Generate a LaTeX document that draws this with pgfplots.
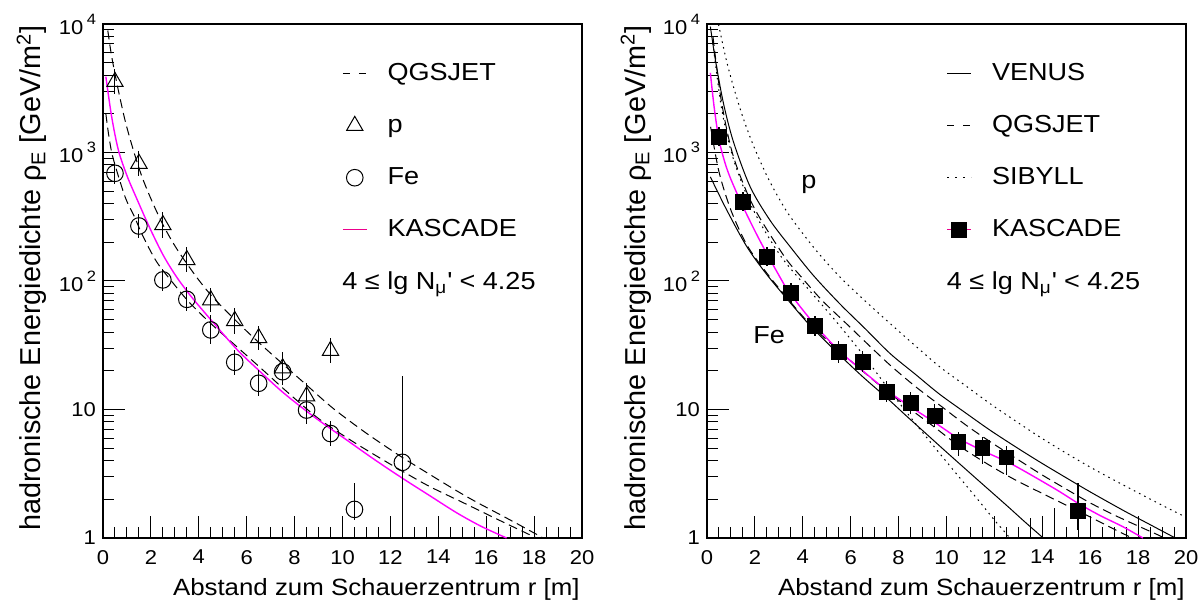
\documentclass[border=0pt]{standalone}
\usepackage{fontspec}
\setmainfont{Liberation Sans}[FakeStretch=1.1]
\newfontfamily\ylabfont{Liberation Sans}
\usepackage{pgfplots}
\usepackage{pgfplotstable}
\pgfplotsset{compat=1.18}
\definecolor{kasmag}{RGB}{255,0,255}

\newcommand{\tf}{\fontsize{12.3}{14}\selectfont}
\newcommand{\tkf}{\fontsize{10}{12}\selectfont}
\newcommand{\sps}[1]{\,\raisebox{0.5em}{\fontsize{7.5}{8}\selectfont #1}}

% left panel: simulated p / Fe points (x, rho, err+, err-)
\pgfplotstableread{
x y ep em
0.5 3550 900 700
1.5 820 210 165
2.5 273 70 55
3.5 146 38 29
4.5 71 18 14
5.5 49 13 10
6.5 36 9 7
7.5 21 7 5
8.5 12.7 3.3 2.6
9.5 28.7 7.5 5.8
}\protonTab
\pgfplotstableread{
x y ep em
0.5 689 150 120
1.5 268 65 52
2.5 102 23 19
3.5 72 18 14
4.5 41.6 13 9.5
5.5 23.3 6 4.7
6.5 16 4.2 3.3
7.5 19.7 5.5 4.3
8.5 9.9 2.8 2.2
9.5 6.5 1.7 1.3
10.5 1.67 1.03 0.3
12.5 3.88 14.3 3.38
}\ironTab
% right panel: KASCADE data
\pgfplotstableread{
x y ep em
0.5 1320 250 200
1.5 415 80 65
2.5 155 30 24
3.5 81 16 13
4.5 44.7 9 7.5
5.5 28.2 6 5
6.5 23.6 5 4
7.5 13.8 3 2.4
8.5 11.2 2.4 2
9.5 8.95 2 1.6
10.5 5.61 1.1 1.3
11.5 4.99 1.1 1.2
12.5 4.24 0.96 1.14
15.5 1.62 1.06 0.47
}\kasTab
\pgfplotstableread{
x y ep em
13.5 0.6 0.83 0.3
14.5 0.7 1.01 0.3
}\kasLowTab

\pgfplotsset{
  kasline/.style={draw=kasmag, color=kasmag, line width=0.7pt},
  kasleg/.style={magenta, line width=0.75pt},
  every axis/.append style={
    scale only axis, width=239.5pt, height=257pt,
    xmin=0, xmax=20, ymin=1, ymax=10000,
    axis line style={line width=0.7pt},
    tick pos=left, tick align=inside,
    major tick length=11pt, minor tick length=5.5pt,
    tick style={black, line width=0.5pt},
    xtick={0,2,...,20}, minor x tick num=3,
    xticklabels={0,2,4,6,8,10,12,14,16,18,20},
    ytick={1,10,100,1000,10000},
    minor ytick={2,3,4,5,6,7,8,9,20,30,40,50,60,70,80,90,200,300,400,500,600,700,800,900,2000,3000,4000,5000,6000,7000,8000,9000},
    yticklabels={1,10,10\sps{2},10\sps{3},10\sps{4}},
    ticklabel style={font=\tkf},
    xticklabel style={yshift=-2.5pt},
    yticklabel style={xshift=0pt},
    legend style={draw=none, fill=none, font=\tf, inner sep=0pt, outer sep=0pt,
      row sep=14.3pt, column sep=10pt, anchor=north west,
      nodes={inner sep=0pt, text height=9pt, text depth=2.7pt}},
    legend cell align=left,
  },
}

\begin{document}
\begin{tikzpicture}
\useasboundingbox (0,0) rectangle (599.5pt,300.5pt);

% ---------- left panel ----------
\begin{axis}[ymode=log, at={(51.5pt,31.5pt)}, anchor=south west,
  legend style={at={(rel axis cs:0.499,0.926)}},
  legend image code/.code={\draw[mark repeat=2,mark phase=2,#1] plot coordinates {(0pt,0pt) (6pt,0pt) (12pt,0pt)};}]
\addplot[black, line width=0.5pt, dash pattern=on 4.5pt off 2.5pt, smooth, forget plot] coordinates {(0.2,8900) (0.36,5620) (0.6,3310) (0.92,1780) (1.25,1070) (1.61,661) (2.0,437) (2.5,275) (3.08,178) (3.91,107) (4.61,74) (5.72,45.7) (6.6,32) (7.53,22.4) (8.5,15.5) (9.61,10.2) (11.0,6.53) (12.47,4.27) (13.6,3.16) (14.75,2.34) (15.6,1.9) (16.44,1.57) (17.4,1.26) (18.38,1.0)};
\addplot[black, line width=0.5pt, dash pattern=on 4.5pt off 2.5pt, smooth, forget plot] coordinates {(0.12,2000) (0.25,1320) (0.43,891) (0.92,453) (1.3,320) (1.68,221) (2.24,141) (2.9,97.7) (3.64,67) (4.61,44.7) (5.58,30.9) (6.6,20.9) (7.67,13.8) (9.0,8.5) (10.31,5.82) (11.4,4.37) (12.5,3.31) (13.65,2.51) (15.1,1.86) (16.6,1.36) (18.1,1.0)};
\addplot[kasline, smooth, forget plot] coordinates {(0.12,3890) (0.36,1905) (0.64,1047) (1.0,661) (1.41,437) (1.96,257) (2.52,158) (3.08,107) (3.7,75) (4.5,50) (5.58,29.5) (6.5,20.2) (7.53,13.5) (8.8,8.8) (10.17,5.8) (11.3,4.12) (12.5,2.92) (13.6,2.16) (14.77,1.57) (15.8,1.23) (16.85,1.0)};
\addplot[black, only marks, mark=triangle, mark size=4.7pt, mark options={line width=0.5pt}, forget plot,
  error bars/.cd, y dir=both, y explicit, error mark=none, error bar style={black, line width=0.5pt}]
  table[x=x, y=y, y error plus=ep, y error minus=em] {\protonTab};
\addplot[black, only marks, mark=o, mark size=4.15pt, mark options={line width=0.5pt}, forget plot,
  error bars/.cd, y dir=both, y explicit, error mark=none, error bar style={black, line width=0.5pt}]
  table[x=x, y=y, y error plus=ep, y error minus=em] {\ironTab};
\addlegendimage{black, line width=0.5pt, dash pattern=on 3.5pt off 4.5pt}
\addlegendentry{QGSJET}
\addlegendimage{black, only marks, mark=triangle, mark size=4.7pt, mark options={line width=0.5pt}}
\addlegendentry{p}
\addlegendimage{black, only marks, mark=o, mark size=4.15pt, mark options={line width=0.5pt}}
\addlegendentry{Fe}
\addlegendimage{kasleg}
\addlegendentry{KASCADE}
\node[anchor=base west, inner sep=0pt, font=\tf] at (rel axis cs:0.499,0.4825) {4 ≤ lg N\textsubscript{μ}\textquotesingle{} < 4.25};
\end{axis}

% ---------- right panel ----------
\begin{axis}[ymode=log, at={(353.5pt,31.5pt)}, anchor=south west,
  legend style={at={(rel axis cs:0.5,0.926)}},
  legend image code/.code={\draw[mark repeat=2,mark phase=2,#1] plot coordinates {(0pt,0pt) (6pt,0pt) (12pt,0pt)};}]
% VENUS p / Fe
\addplot[black, line width=0.5pt, smooth, forget plot] coordinates {(0.14,9550) (0.35,5250) (0.69,2400) (1.11,1200) (1.81,537) (2.64,295) (3.48,184) (4.45,110) (5.56,66) (6.6,42.6) (7.65,27.2) (8.7,18.8) (9.7,13.2) (10.8,9.4) (11.82,6.9) (12.9,5.1) (13.9,3.9) (15.0,2.94) (15.99,2.29) (17.38,1.64) (18.4,1.3) (19.47,1.02) (19.6,1.0)};
\addplot[black, line width=0.5pt, smooth, forget plot] coordinates {(0.14,646) (0.83,355) (1.67,184) (2.5,112) (3.48,67.6) (4.32,44.7) (5.56,26.3) (6.5,18) (7.51,12.3) (8.3,9.0) (9.04,6.76) (10.0,4.66) (11.26,2.88) (12.5,1.8) (13.3,1.32) (14.04,1.0)};
% QGSJET p / Fe
\addplot[black, line width=0.5pt, dash pattern=on 4.5pt off 2.5pt, smooth, forget plot] coordinates {(0.25,7940) (0.6,2510) (1.1,933) (1.94,380) (3.2,158) (3.89,110) (4.8,70.8) (5.84,46.2) (6.7,32.4) (7.65,22.1) (8.7,15.1) (9.75,10.7) (10.8,7.59) (11.82,5.62) (12.9,4.17) (14.0,3.09) (15.0,2.4) (15.99,1.88) (17.0,1.51) (18.0,1.24) (18.77,1.07) (19.1,1.0)};
\addplot[black, line width=0.5pt, dash pattern=on 4.5pt off 2.5pt, smooth, forget plot] coordinates {(0.15,1585) (0.5,708) (1.0,355) (1.67,190) (2.5,115) (3.34,74) (4.32,45.7) (5.56,28.2) (7.0,16.6) (8.3,10.7) (9.45,7.4) (10.43,5.37) (11.5,3.98) (12.5,3.09) (13.21,2.63) (14.5,2.0) (15.99,1.46) (17.0,1.17) (17.75,1.0)};
% SIBYLL p / Fe
\addplot[black, line width=0.5pt, dash pattern=on 0.8pt off 2.1pt, smooth, forget plot] coordinates {(0.48,9930) (0.8,5310) (1.11,3220) (1.5,1880) (1.94,1130) (2.5,659) (3.0,441) (3.48,316) (4.5,178) (5.56,107) (6.6,70) (7.65,46.6) (8.7,31.3) (9.73,21.4) (10.8,15.3) (11.82,11.1) (12.9,8.1) (13.9,6.1) (15.0,4.57) (15.99,3.57) (17.0,2.82) (18.08,2.21) (19.0,1.8) (20.0,1.45)};
\addplot[black, line width=0.5pt, dash pattern=on 0.8pt off 2.1pt, smooth, forget plot] coordinates {(0.25,7080) (0.6,2240) (1.1,891) (1.94,355) (3.06,158) (4.17,89) (5.28,51.3) (6.5,26.9) (7.7,13.5) (8.9,7.0) (10.1,3.72) (11.3,2.0) (12.0,1.38) (12.65,1.0)};
% KASCADE fit and data
\addplot[kasline, smooth, forget plot] coordinates {(0.14,4170) (0.3,2240) (0.5,1260) (0.75,832) (1.0,617) (1.5,380) (2.22,204) (3.06,106) (3.48,79.4) (4.5,45.7) (5.5,28.8) (6.5,20) (7.5,14.1) (8.5,10.5) (9.5,7.94) (10.5,5.96) (11.5,4.79) (12.5,3.94) (13.21,3.35) (14.6,2.37) (15.5,1.86) (16.4,1.5) (17.38,1.22) (18.2,1.0)};
\addplot[black, only marks, mark=square*, mark size=3.7pt, forget plot,
  error bars/.cd, y dir=both, y explicit, error mark=none, error bar style={black, line width=0.75pt}]
  table[x=x, y=y, y error plus=ep, y error minus=em] {\kasTab};
\addplot[black, only marks, mark=none, forget plot,
  error bars/.cd, y dir=both, y explicit, error mark=none, error bar style={black, line width=0.75pt}]
  table[x=x, y=y, y error plus=ep, y error minus=em] {\kasLowTab};
\addlegendimage{black, line width=0.5pt}
\addlegendentry{VENUS}
\addlegendimage{black, line width=0.5pt, dash pattern=on 3.5pt off 4.5pt}
\addlegendentry{QGSJET}
\addlegendimage{black, line width=0.5pt, dash pattern=on 0.8pt off 3.2pt}
\addlegendentry{SIBYLL}
\addlegendimage{kasleg, mark=square*, mark size=3.7pt, mark options={draw=black, fill=black}}
\addlegendentry{KASCADE}
\node[anchor=base west, inner sep=0pt, font=\tf] at (rel axis cs:0.5,0.4825) {4 ≤ lg N\textsubscript{μ}\textquotesingle{} < 4.25};
\node[anchor=base west, inner sep=0pt, font=\tf] at (rel axis cs:0.196,0.680) {p};
\node[anchor=base west, inner sep=0pt, font=\tf] at (rel axis cs:0.096,0.379) {Fe};
\end{axis}

% axis titles (ROOT style: right/top aligned)
\node[anchor=base east, inner sep=0pt, font=\fontsize{11.75}{14}\selectfont] at (290pt,2.75pt) {Abstand zum Schauerzentrum r [m]};
\node[anchor=base east, inner sep=0pt, font=\fontsize{11.75}{14}\selectfont] at (592.5pt,2.75pt) {Abstand zum Schauerzentrum r [m]};
\node[anchor=base east, rotate=90, inner sep=0pt, font=\ylabfont\fontsize{14.4}{16}\selectfont] at (20.5pt,288pt) {hadronische Energiedichte ρ\textsubscript{E} [GeV/m\textsuperscript{2}]};
\node[anchor=base east, rotate=90, inner sep=0pt, font=\ylabfont\fontsize{14.4}{16}\selectfont] at (322.5pt,288pt) {hadronische Energiedichte ρ\textsubscript{E} [GeV/m\textsuperscript{2}]};
\end{tikzpicture}
\end{document}
